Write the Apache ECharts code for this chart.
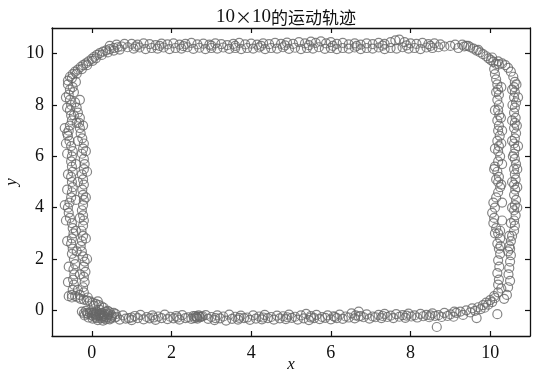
<!DOCTYPE html>
<html>
<head>
<meta charset="utf-8">
<script src="https://cdn.jsdelivr.net/npm/echarts@6/dist/echarts.min.js"></script>
<style>html,body{margin:0;padding:0;background:#fff}#c{width:543px;height:373px}</style>
</head>
<body>
<div id="c"></div>
<script>
var titleParts = ['10', '×', '10', '的运动轨迹'];
var xTicks = [0, 2, 4, 6, 8, 10];
var yTicks = [0, 2, 4, 6, 8, 10];

var startCluster = [
[-0.58,0.55],[-0.5,0.5],[-0.42,0.55],[-0.35,0.5],[-0.28,0.45],[-0.2,0.42],[-0.12,0.38],[-0.05,0.35],[0.02,0.3],[0.1,0.25],[0.18,0.2],[0.25,0.15],[0.3,0.1],[-0.1,0.5],[-0.3,0.6],[0.05,0.18],[0.15,0.35],
[-0.25,-0.05],[-0.2,-0.12],[-0.15,-0.02],[-0.1,-0.15],[-0.05,-0.08],[0.0,-0.2],[0.05,-0.1],[0.1,-0.25],[0.12,-0.05],[0.18,-0.18],[0.22,-0.3],[0.25,-0.1],[0.3,-0.22],[0.35,-0.05],[0.38,-0.28],[0.42,-0.15],[0.45,-0.35],[0.5,-0.2],[0.55,-0.1],[0.58,-0.28],[0.02,-0.32],[-0.08,-0.28],[0.15,-0.38],[0.28,-0.4],[0.4,-0.02],[0.2,0.02],[0.08,-0.15],[0.32,-0.15],[0.25,-0.25],[0.48,-0.3],[-0.18,-0.2],[0.12,-0.3],[0.35,-0.35],[0.45,-0.08],[0.6,-0.15],[0.2,-0.12],[0.3,-0.3],
[0.0,-0.1],[0.1,-0.18],[0.22,-0.2],[0.33,-0.25],[0.4,-0.2],[0.15,-0.22],[0.27,-0.18],[0.05,-0.25],[-0.12,-0.1],[0.5,-0.25]
];

var bottomEdge = [
[0.62,-0.25],[0.78,-0.2],[0.93,-0.3],[1.08,-0.22],[1.22,-0.18],[1.38,-0.26],[1.52,-0.2],[1.67,-0.24],[1.83,-0.17],[1.97,-0.25],[2.12,-0.22],[2.27,-0.19],[2.42,-0.27],[2.55,-0.22],[2.62,-0.25],[2.68,-0.2],[2.72,-0.27],[2.78,-0.23],[2.58,-0.3],[2.65,-0.32],[2.6,-0.22],[2.7,-0.24],[2.64,-0.27],[2.75,-0.25],[2.86,-0.19],[3.0,-0.26],[3.15,-0.2],[3.3,-0.24],[3.45,-0.17],[3.6,-0.25],[3.74,-0.21],[3.9,-0.28],[4.05,-0.2],[4.2,-0.24],[4.34,-0.18],[4.5,-0.26],[4.65,-0.21],[4.8,-0.23],[4.95,-0.17],[5.1,-0.25],[5.25,-0.2],[5.38,-0.14],[5.5,-0.22],[5.64,-0.18],[5.78,-0.26],[5.92,-0.2],[6.07,-0.23],[6.22,-0.17],[6.37,-0.24],[6.52,-0.12],[6.62,-0.2],[6.75,-0.22],[6.9,-0.16],[7.05,-0.24],[7.2,-0.18],[7.35,-0.14],[7.5,-0.21],[7.64,-0.15],[7.8,-0.19],[7.95,-0.13],[8.1,-0.2],[8.25,-0.14],[8.4,-0.18],[8.55,-0.12],[8.7,-0.19],[8.85,-0.1],[9.0,-0.16],
[0.7,-0.36],[0.85,-0.32],[1.0,-0.38],[1.15,-0.3],[1.3,-0.35],[1.45,-0.31],[1.6,-0.37],[1.75,-0.3],[1.9,-0.34],[2.05,-0.31],[2.2,-0.36],[2.35,-0.3],[2.5,-0.33],[2.92,-0.33],[3.08,-0.38],[3.22,-0.31],[3.37,-0.4],[3.52,-0.33],[3.67,-0.36],[3.82,-0.3],[3.97,-0.37],[4.12,-0.32],[4.27,-0.35],[4.42,-0.3],[4.57,-0.36],[4.72,-0.31],[4.87,-0.34],[5.02,-0.29],[5.17,-0.36],[5.32,-0.31],[5.45,-0.38],[5.58,-0.3],[5.72,-0.34],[5.86,-0.29],[6.0,-0.35],[6.15,-0.3],[6.3,-0.33],[6.45,-0.28],[6.6,-0.31],[6.7,-0.05],[6.82,-0.27],[6.97,-0.32],[7.12,-0.27],[7.27,-0.3],[7.42,-0.26],[7.57,-0.3],[7.72,-0.25],[7.87,-0.29],[8.02,-0.24],[8.17,-0.28],[8.32,-0.23],[8.47,-0.27],[8.62,-0.22],[8.66,-0.65],[8.78,-0.26],[8.93,-0.22],[9.08,-0.25],
[1.0,-0.28],[1.55,-0.28],[2.15,-0.28],[3.1,-0.3],[3.7,-0.29],[4.3,-0.28],[4.9,-0.27],[5.5,-0.28],[6.1,-0.26],[6.7,-0.24],[7.3,-0.22],[7.9,-0.21],[8.5,-0.2],[9.1,-0.05]
];

var rightSide = [
[9.15,-0.1],[9.25,-0.05],[9.32,-0.18],[9.4,0.0],[9.5,-0.08],[9.55,0.08],[9.62,-0.02],[9.66,-0.3],[9.7,0.12],[9.76,0.05],[9.82,0.2],[9.86,0.1],[9.9,0.3],[9.95,0.22],[10.0,0.4],[10.05,0.32],[10.1,0.55],[10.18,-0.15],[10.12,0.48],[10.2,0.7],[10.35,0.45],[10.42,0.6],[10.28,0.85],[10.45,0.9],[10.2,1.0],[10.5,1.15],[10.22,1.2],[10.46,1.4],[10.18,1.45],[10.48,1.65],[10.23,1.7],[10.5,1.9],[10.2,1.95],[10.52,2.15],[10.25,2.2],[10.5,2.4],
[10.22,2.4],[10.18,2.6],[10.25,2.8],[10.2,3.0],[10.15,3.2],[10.08,3.4],[10.1,3.6],[10.05,3.8],[10.12,4.0],[10.08,4.2],[10.15,4.4],[10.2,4.6],[10.25,4.8],[10.2,5.0],[10.22,5.2],[10.18,5.4],[10.12,5.6],[10.2,5.8],[10.25,6.0],[10.2,6.2],[10.22,6.4],[10.18,6.6],[10.24,6.8],[10.2,7.0],[10.22,7.2],[10.18,7.4],[10.23,7.6],[10.2,7.8],[10.22,8.0],[10.18,8.2],[10.22,8.4],[10.2,8.6],[10.18,8.8],[10.15,9.0],[10.12,9.2],[10.1,9.4],[10.25,3.1],[10.28,4.9],[10.1,5.5],[10.28,6.5],[10.27,7.5],[10.15,8.5],[10.26,2.5],
[10.48,2.5],[10.52,2.7],[10.55,2.9],[10.6,3.1],[10.62,3.3],[10.6,3.5],[10.64,3.7],[10.6,3.9],[10.62,4.1],[10.65,4.3],[10.6,4.5],[10.63,4.7],[10.6,4.9],[10.64,5.1],[10.62,5.3],[10.6,5.5],[10.65,5.7],[10.62,5.9],[10.6,6.1],[10.63,6.3],[10.6,6.5],[10.62,6.7],[10.65,6.9],[10.6,7.1],[10.62,7.3],[10.64,7.5],[10.6,7.7],[10.62,7.9],[10.65,8.1],[10.6,8.3],[10.62,8.5],[10.6,8.7],[10.62,8.9],[10.58,9.1],[10.52,9.3],[10.45,9.45],[10.38,9.55],[10.55,4.0],[10.68,4.8],[10.57,6.0],[10.67,7.2],[10.56,8.0],[10.66,8.8],[10.48,2.9],[10.45,2.3],
[10.3,3.5],[10.12,3.0],[10.3,4.2],[10.15,5.1],[10.3,5.7],[10.12,6.3],[10.3,7.0],[10.12,7.8],[10.28,8.7],[10.52,3.4],[10.68,4.0],[10.55,5.0],[10.68,5.5],[10.55,6.6],[10.7,6.4],[10.55,7.4],[10.7,8.3],[10.55,8.6]
];

var topEdge = [
[9.3,10.35],[9.4,10.3],[9.5,10.25],[9.58,10.2],[9.66,10.12],[9.75,10.05],[9.82,9.98],[9.9,9.9],[9.96,9.82],[10.02,9.75],[10.08,9.68],[10.15,9.6],[10.22,9.58],[10.3,9.62],[10.2,9.7],[10.05,9.85],[9.7,10.15],[9.45,10.3],[9.35,10.28],
[0.9,10.25],[1.05,10.2],[1.2,10.24],[1.35,10.18],[1.5,10.22],[1.65,10.2],[1.8,10.24],[1.95,10.18],[2.1,10.22],[2.25,10.2],[2.4,10.25],[2.55,10.19],[2.7,10.23],[2.85,10.18],[3.0,10.22],[3.15,10.2],[3.3,10.24],[3.45,10.19],[3.6,10.22],[3.75,10.18],[3.9,10.22],[4.05,10.2],[4.2,10.24],[4.35,10.18],[4.5,10.22],[4.65,10.2],[4.8,10.25],[4.95,10.19],[5.1,10.23],[5.25,10.18],[5.4,10.22],[5.55,10.2],[5.7,10.25],[5.85,10.19],[6.0,10.22],[6.15,10.18],[6.3,10.22],[6.45,10.2],[6.6,10.24],[6.75,10.18],[6.9,10.22],[7.05,10.2],[7.2,10.24],[7.35,10.18],[7.5,10.22],[7.65,10.2],[7.8,10.25],[7.95,10.2],[8.1,10.22],[8.25,10.18],[8.4,10.24],[8.55,10.22],[8.7,10.25],[8.85,10.28],[9.0,10.3],[9.12,10.35],
[1.0,10.38],[1.15,10.35],[1.3,10.4],[1.45,10.37],[1.6,10.33],[1.75,10.39],[1.9,10.36],[2.05,10.4],[2.2,10.35],[2.35,10.38],[2.5,10.42],[2.65,10.36],[2.8,10.39],[2.95,10.35],[3.1,10.4],[3.25,10.37],[3.4,10.33],[3.55,10.38],[3.7,10.42],[3.85,10.36],[4.0,10.39],[4.15,10.35],[4.3,10.4],[4.45,10.37],[4.6,10.42],[4.75,10.38],[4.9,10.43],[5.05,10.38],[5.2,10.45],[5.35,10.4],[5.5,10.47],[5.62,10.42],[5.75,10.48],[5.88,10.4],[6.0,10.45],[6.15,10.38],[6.3,10.42],[6.45,10.36],[6.6,10.4],[6.75,10.35],[6.9,10.4],[7.05,10.37],[7.2,10.42],[7.35,10.38],[7.5,10.45],[7.62,10.52],[7.72,10.55],[7.85,10.45],[8.0,10.4],[8.15,10.38],[8.3,10.42],[8.45,10.37],[8.6,10.4],[8.75,10.36],
[1.1,10.28],[1.7,10.3],[2.3,10.29],[3.0,10.31],[3.6,10.3],[4.25,10.3],[4.85,10.32],[5.45,10.33],[6.05,10.3],[6.65,10.3],[7.3,10.31],[7.9,10.32],[8.5,10.3],[9.2,10.22]
];

var leftSide = [
[-0.6,8.95],[-0.55,9.1],[-0.48,9.2],[-0.42,9.3],[-0.35,9.38],[-0.28,9.48],[-0.22,9.55],[-0.15,9.62],[-0.08,9.7],[0.0,9.8],[0.06,9.88],[0.13,9.95],[0.2,10.02],[0.28,10.08],[0.36,10.13],[0.45,10.18],[0.55,10.22],[0.65,10.25],[0.75,10.28],[-0.5,9.05],[-0.38,9.22],[-0.25,9.4],[-0.12,9.55],[0.02,9.72],[0.1,9.82],[0.25,9.95],[0.4,10.05],[0.55,10.12],[0.7,10.16],[0.45,10.3],[0.62,10.35],[0.82,10.38],
[-0.5,0.6],[-0.48,0.8],[-0.45,1.0],[-0.47,1.2],[-0.44,1.4],[-0.46,1.6],[-0.42,1.8],[-0.45,2.0],[-0.5,2.2],[-0.48,2.4],[-0.52,2.6],[-0.5,2.8],[-0.46,3.0],[-0.48,3.2],[-0.5,3.4],[-0.55,3.6],[-0.58,3.8],[-0.6,4.0],[-0.56,4.2],[-0.52,4.4],[-0.5,4.6],[-0.48,4.8],[-0.5,5.0],[-0.52,5.2],[-0.48,5.4],[-0.5,5.6],[-0.52,5.8],[-0.5,6.0],[-0.48,6.2],[-0.52,6.4],[-0.56,6.6],[-0.6,6.8],[-0.58,7.0],[-0.55,7.2],[-0.5,7.4],[-0.52,7.6],[-0.55,7.8],[-0.52,8.0],[-0.55,8.2],[-0.58,8.4],[-0.55,8.6],[-0.6,8.8],[-0.42,8.1],[-0.45,8.5],[-0.38,7.3],[-0.62,6.9],[-0.4,4.3],
[-0.2,0.7],[-0.22,0.9],[-0.18,1.1],[-0.2,1.3],[-0.16,1.5],[-0.2,1.7],[-0.18,1.9],[-0.22,2.1],[-0.25,2.3],[-0.28,2.5],[-0.25,2.7],[-0.22,2.9],[-0.26,3.1],[-0.22,3.3],[-0.2,3.5],[-0.22,3.7],[-0.25,3.9],[-0.22,4.1],[-0.2,4.3],[-0.22,4.5],[-0.24,4.7],[-0.2,4.9],[-0.22,5.1],[-0.25,5.3],[-0.2,5.5],[-0.18,5.7],[-0.2,5.9],[-0.25,6.1],[-0.22,6.3],[-0.2,6.5],[-0.24,6.7],[-0.28,6.9],[-0.3,7.1],[-0.32,7.3],[-0.3,7.5],[-0.35,7.7],[-0.38,7.9],
[-0.35,0.8],[-0.6,1.1],[-0.3,1.4],[-0.58,1.7],[-0.12,2.0],[-0.38,2.3],[-0.62,2.7],[-0.15,2.8],[-0.4,3.1],[-0.65,3.5],[-0.3,3.6],[-0.68,4.1],[-0.15,4.4],[-0.62,4.7],[-0.35,5.0],[-0.6,5.3],[-0.12,5.4],[-0.4,5.7],[-0.62,6.1],[-0.15,6.2],[-0.65,6.5],[-0.35,6.6],[-0.68,7.1],[-0.22,7.2],[-0.45,7.6],[-0.62,7.9],[-0.3,8.2],[-0.65,8.3],[-0.48,8.7],[-0.4,8.9]
];

var allPoints = [].concat(startCluster, bottomEdge, rightSide, topEdge, leftSide);

var serif = "'Liberation Serif', 'Times New Roman', serif";
var cjk = "'Noto Sans CJK SC', sans-serif";
var chart = echarts.init(document.getElementById('c'), null, {renderer: 'canvas'});
function mkAxis(pos, showLabel, ticks, name) {
  return {
    type: 'value', position: pos, min: -1, max: 11,
    name: name || '', nameLocation: 'middle', nameMoveOverlap: false,
    nameGap: pos === 'bottom' ? 20 : 32,
    nameTextStyle: {fontFamily: serif, fontStyle: 'italic', fontSize: 17, color: '#111'},
    axisLine: {show: true, onZero: false, lineStyle: {color: '#111', width: 1.3}},
    axisTick: {show: true, inside: true, length: 5, customValues: ticks, lineStyle: {color: '#111', width: 1.2}},
    axisLabel: {show: showLabel, customValues: ticks, fontFamily: serif, fontSize: 18, color: '#111', margin: 8},
    splitLine: {show: false}
  };
}
chart.setOption({
  animation: false,
  backgroundColor: '#fff',
  title: {
    text: '{n|' + titleParts[0] + '}{c|' + titleParts[1] + '}{n|' + titleParts[2] + '}{c|' + titleParts[3] + '}',
    left: 281, top: 3, textAlign: 'center',
    textStyle: {
      fontWeight: 'normal',
      rich: {
        n: {fontFamily: serif, fontSize: 19, fontWeight: 'normal', color: '#111'},
        c: {fontFamily: cjk, fontSize: 17, fontWeight: 'normal', color: '#111'}
      }
    }
  },
  grid: {left: 52, right: 13, top: 28, bottom: 37, containLabel: false, outerBoundsMode: 'none'},
  xAxis: [mkAxis('bottom', true, xTicks, 'x'), mkAxis('top', false, xTicks)],
  yAxis: [mkAxis('left', true, yTicks, 'y'), mkAxis('right', false, yTicks)],
  series: [{
    type: 'scatter', xAxisIndex: 0, yAxisIndex: 0,
    data: allPoints, symbol: 'circle', symbolSize: 9,
    itemStyle: {color: 'rgba(0,0,0,0)', borderColor: '#666', borderWidth: 1.2}
  }]
});
</script>
</body>
</html>
